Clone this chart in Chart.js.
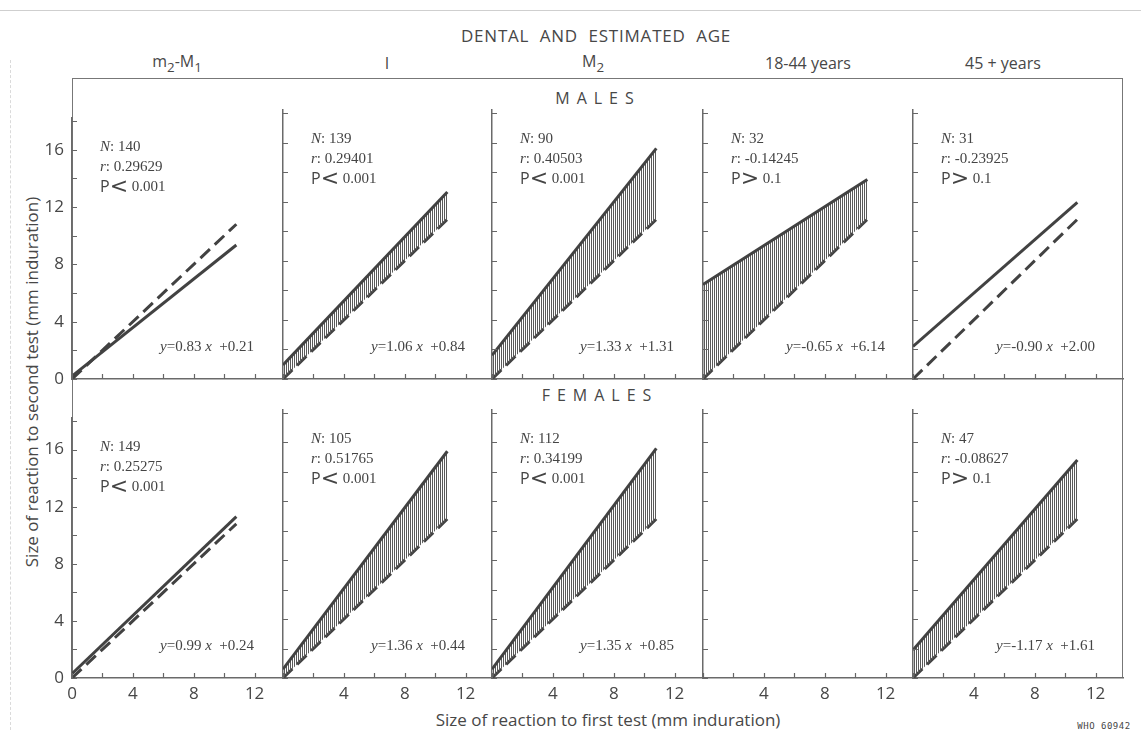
<!DOCTYPE html>
<html>
<head>
<meta charset="utf-8">
<script src="https://cdn.jsdelivr.net/npm/chart.js@4.4.0/dist/chart.umd.min.js"></script>
<style>
body { margin: 0; background: #fff; }
#page { position: relative; width: 1141px; height: 734px; overflow: hidden; font-family: 'Open Sans', sans-serif; color: #474747; }
.t { position: absolute; white-space: nowrap; transform: translate(-50%, -50%); }
canvas { position: absolute; }
</style>
</head>
<body>
<div id="page"></div>
<script>
// column headers (dental and estimated age)
var columns = ['m<sub>2</sub>-M<sub>1</sub>', 'I', 'M<sub>2</sub>', '18-44 years', '45 + years'];
var xTickLabels = [0, 4, 8, 12];
var yTickLabels = [0, 4, 8, 12, 16];

// both lines are drawn from x = 0 to x = lineX[1]
var lineX = [0, 10.8];
// dashed line: second test = first test
var equalY = [0, 10.8];

// MALES - solid regression line, read at the two ends
var maleStart = [0.2, 0.95, 1.6, 6.4, 2.2];
var maleEnd = [9.35, 12.65, 15.6, 13.5, 11.95];
var maleHatch = [false, true, true, true, false];
var maleN = ['140', '139', '90', '32', '31'];
var maleR = ['0.29629', '0.29401', '0.40503', '-0.14245', '-0.23925'];
var maleP = ['<', '<', '<', '>', '>'];
var maleLevel = ['0.001', '0.001', '0.001', '0.1', '0.1'];
var maleSlope = ['0.83', '1.06', '1.33', '-0.65', '-0.90'];
var maleIntercept = ['0.21', '0.84', '1.31', '6.14', '2.00'];

// FEMALES (no panel for 18-44 years)
var femaleStart = [0.3, 0.6, 0.6, null, 1.9];
var femaleEnd = [11.3, 15.4, 15.6, null, 14.8];
var femaleHatch = [false, true, true, false, true];
var femaleN = ['149', '105', '112', null, '47'];
var femaleR = ['0.25275', '0.51765', '0.34199', null, '-0.08627'];
var femaleP = ['<', '<', '<', null, '>'];
var femaleLevel = ['0.001', '0.001', '0.001', null, '0.1'];
var femaleSlope = ['0.99', '1.36', '1.35', null, '-1.17'];
var femaleIntercept = ['0.24', '0.44', '0.85', null, '1.61'];

var page = document.getElementById('page');
var colLeft = [72, 283, 492, 703, 913];
var panelW = 210;
var rows = [
    { top: 110, bottom: 379, start: maleStart, end: maleEnd, hatch: maleHatch, n: maleN, r: maleR, p: maleP, lvl: maleLevel, slope: maleSlope, icpt: maleIntercept, labels: false },
    { top: 410, bottom: 678, start: femaleStart, end: femaleEnd, hatch: femaleHatch, n: femaleN, r: femaleR, p: femaleP, lvl: femaleLevel, slope: femaleSlope, icpt: femaleIntercept, labels: true }
];
var ink = '#424242';
var serif = '15px "Liberation Serif"';
var serifIt = 'italic 15px "Liberation Serif"';

function addText(html, x, y, style) {
    var d = document.createElement('div');
    d.className = 't';
    d.innerHTML = html;
    d.style.left = x + 'px';
    d.style.top = y + 'px';
    d.setAttribute('style', d.getAttribute('style') + ';' + (style || ''));
    page.appendChild(d);
    return d;
}

// frame and scan lines
var frame = document.createElement('div');
frame.style.cssText = 'position:absolute;left:72px;top:78px;width:1051px;height:600px;border:1.5px solid #777;border-bottom:none;box-sizing:border-box;';
page.appendChild(frame);
var scan = document.createElement('div');
scan.style.cssText = 'position:absolute;left:0;top:10px;width:1141px;border-top:1px solid #cfcfcf;';
page.appendChild(scan);
var scan2 = document.createElement('div');
scan2.style.cssText = 'position:absolute;left:10px;top:60px;height:670px;border-left:1px dashed #dadada;';
page.appendChild(scan2);

addText('DENTAL &nbsp;AND &nbsp;ESTIMATED &nbsp;AGE', 596, 35, 'font-size:17px;letter-spacing:0.8px;');
var headX = [177, 387, 593, 808, 1003];
columns.forEach(function(c, i) {
    addText(c, headX[i], 63, 'font-size:16px;');
});
addText('MALES', 598, 98, 'font-size:16px;letter-spacing:7px;');
addText('FEMALES', 600, 395, 'font-size:16px;letter-spacing:7px;');
addText('Size of reaction to first test (mm induration)', 608, 719, 'font-size:17px;');
addText('Size of reaction to second test (mm induration)', 31, 382, 'font-size:17px;transform:translate(-50%,-50%) rotate(-90deg);');
addText('WHO 60942', 1104, 726, 'font-size:9px;font-family:"DejaVu Sans Mono";letter-spacing:0.5px;');

function hatchPattern() {
    var c = document.createElement('canvas');
    c.width = 2; c.height = 2;
    var g = c.getContext('2d');
    g.fillStyle = '#5a5a5a';
    g.fillRect(0, 0, 1, 2);
    return g.createPattern(c, 'repeat');
}
var hatch = hatchPattern();

function drawRuns(ctx, runs, x, y) {
    runs.forEach(function(r) {
        ctx.font = r[1];
        ctx.fillText(r[0], x, y);
        x += ctx.measureText(r[0]).width;
    });
}
function runsWidth(ctx, runs) {
    var w = 0;
    runs.forEach(function(r) { ctx.font = r[1]; w += ctx.measureText(r[0]).width; });
    return w;
}

var inwardTicks = {
    id: 'inwardTicks',
    afterDraw: function(chart) {
        var ctx = chart.ctx, a = chart.chartArea;
        var sx = chart.scales.x, sy = chart.scales.y;
        ctx.save();
        ctx.strokeStyle = '#666';
        ctx.lineWidth = 1.2;
        ctx.beginPath();
        sx.ticks.forEach(function(t) {
            var px = Math.round(sx.getPixelForValue(t.value)) + 0.5;
            ctx.moveTo(px, a.bottom); ctx.lineTo(px, a.bottom - 5);
        });
        sy.ticks.forEach(function(t) {
            var py = Math.round(sy.getPixelForValue(t.value)) + 0.5;
            ctx.moveTo(a.left, py); ctx.lineTo(a.left + 5, py);
        });
        ctx.stroke();
        ctx.restore();
    }
};

var panelText = {
    id: 'panelText',
    afterDraw: function(chart) {
        var o = chart.options.plugins.panelText;
        if (!o || !o.n) return;
        var ctx = chart.ctx, a = chart.chartArea;
        ctx.save();
        ctx.fillStyle = '#444';
        ctx.textBaseline = 'middle';
        var x = a.left + 28;
        drawRuns(ctx, [['N', serifIt], [': ' + o.n, serif]], x, a.top + 29);
        drawRuns(ctx, [['r', serifIt], [': ' + o.r, serif]], x, a.top + 49);
        drawRuns(ctx, [['P', '16px "Open Sans"'], [o.p, '22px "DejaVu Sans"'], [' ' + o.lvl, serif]], x, a.top + 69);
        var eq = [['y', serifIt], ['=' + o.slope, serif], [' x', serifIt], ['  +' + o.icpt, serif]];
        drawRuns(ctx, eq, a.left + 182 - runsWidth(ctx, eq), a.bottom - 32);
        ctx.restore();
    }
};

rows.forEach(function(row, ri) {
    colLeft.forEach(function(left, c) {
        var h = row.bottom - row.top;
        var cv = document.createElement('canvas');
        cv.width = 45 + panelW + 6;
        cv.height = 10 + h + 34;
        cv.style.left = (left - 45) + 'px';
        cv.style.top = (row.top - 10) + 'px';
        page.appendChild(cv);

        var datasets = [];
        if (row.start[c] !== null) {
            datasets.push({
                data: [{ x: lineX[0], y: row.start[c] }, { x: lineX[1], y: row.end[c] }],
                borderColor: ink, borderWidth: 3, pointRadius: 0,
                backgroundColor: hatch,
                fill: row.hatch[c] ? { target: 1 } : false
            });
            datasets.push({
                data: [{ x: lineX[0], y: equalY[0] }, { x: lineX[1], y: equalY[1] }],
                borderColor: ink, borderWidth: 3, pointRadius: 0,
                borderDash: [13, 6.6], fill: false
            });
        }

        new Chart(cv, {
            type: 'line',
            data: { datasets: datasets },
            options: {
                responsive: false, animation: false, events: [],
                layout: { padding: { top: 10, right: 6, left: 0, bottom: 0 } },
                plugins: {
                    legend: { display: false }, tooltip: { enabled: false },
                    panelText: row.n[c] ? { n: row.n[c], r: row.r[c], p: row.p[c], lvl: row.lvl[c], slope: row.slope[c], icpt: row.icpt[c] } : {}
                },
                scales: {
                    x: {
                        type: 'linear', min: 0, max: 13.8,
                        grid: { display: false, drawTicks: false },
                        border: { display: true, color: '#6a6a6a', width: 1.5 },
                        afterFit: function(s) { s.height = 34; },
                        ticks: {
                            display: row.labels, stepSize: 2, includeBounds: false, autoSkip: false, maxRotation: 0,
                            padding: 6, color: '#474747', font: { family: 'Open Sans', size: 17 },
                            callback: function(v) { return (xTickLabels.indexOf(v) >= 0 && (v !== 0 || c === 0)) ? String(v) : ''; }
                        }
                    },
                    y: {
                        type: 'linear', min: 0, max: 18.2,
                        grid: { display: false, drawTicks: false },
                        border: { display: true, color: '#6a6a6a', width: 1.5 },
                        afterFit: function(s) { s.width = 45; },
                        ticks: {
                            display: c === 0, stepSize: 2, includeBounds: false, autoSkip: false,
                            padding: 8, color: '#474747', font: { family: 'Open Sans', size: 17 },
                            callback: function(v) { return yTickLabels.indexOf(v) >= 0 ? String(v) : ''; }
                        }
                    }
                }
            },
            plugins: [inwardTicks, panelText]
        });
    });
});
</script>
</body>
</html>
